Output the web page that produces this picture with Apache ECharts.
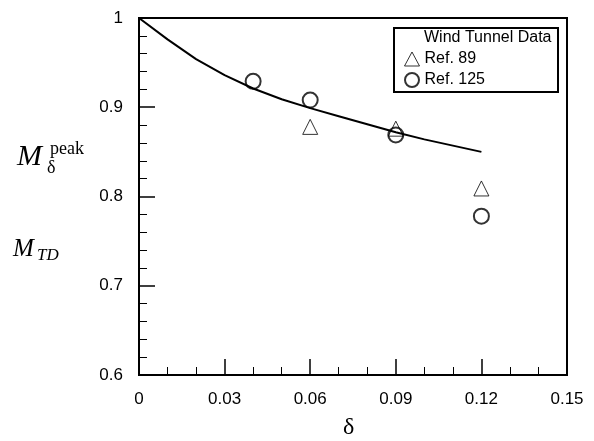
<!DOCTYPE html>
<html>
<head>
<meta charset="utf-8">
<script src="https://cdn.jsdelivr.net/npm/echarts@6/dist/echarts.min.js"></script>
<style>html,body{margin:0;padding:0;background:#fff;}#c{width:594px;height:441px;}</style>
</head>
<body>
<div id="c"></div>
<script>
// Theory curve
var curveX = [0, 0.01, 0.02, 0.03, 0.04, 0.05, 0.06, 0.07, 0.08, 0.09, 0.10, 0.11, 0.12];
var curveY = [1.0, 0.976, 0.954, 0.936, 0.921, 0.909, 0.899, 0.890, 0.881, 0.872, 0.864, 0.857, 0.850];
// Wind tunnel data
var ref89X = [0.06, 0.09, 0.12];
var ref89Y = [0.878, 0.876, 0.809];
var ref125X = [0.04, 0.06, 0.09, 0.12];
var ref125Y = [0.929, 0.908, 0.869, 0.778];
var seriesNames = ['Ref. 89', 'Ref. 125'];
var legendTitle = 'Wind Tunnel Data';
var xTicks = {min: 0, max: 0.15, interval: 0.03};
var yTicks = {min: 0.6, max: 1.0, interval: 0.1};

function zip(a, b) { return a.map(function (v, i) { return [v, b[i]]; }); }

var chart = echarts.init(document.getElementById('c'), null, {renderer: 'canvas'});
var font = 'Arial, "Liberation Sans", Helvetica, sans-serif';
var serif = '"Liberation Serif", "DejaVu Serif", "Times New Roman", serif';

chart.setOption({
  animation: false,
  backgroundColor: '#fff',
  grid: {left: 139, right: 27, top: 18, bottom: 66, show: true, borderColor: '#000', borderWidth: 2, backgroundColor: 'transparent'},
  xAxis: {
    type: 'value', min: xTicks.min, max: xTicks.max, interval: xTicks.interval,
    axisLine: {show: true, lineStyle: {color: '#000', width: 2}},
    axisTick: {show: true, inside: true, length: 16, lineStyle: {color: '#000', width: 1.5}},
    minorTick: {show: true, splitNumber: 3, length: 8, lineStyle: {color: '#000', width: 1}},
    splitLine: {show: false},
    axisLabel: {color: '#000', fontFamily: font, fontSize: 17, margin: 16,
      formatter: function (v) { return String(+v.toFixed(2)); }}
  },
  yAxis: {
    type: 'value', min: yTicks.min, max: yTicks.max, interval: yTicks.interval,
    axisLine: {show: true, lineStyle: {color: '#000', width: 2}},
    axisTick: {show: true, inside: true, length: 16, lineStyle: {color: '#000', width: 1.5}},
    minorTick: {show: true, splitNumber: 5, length: 8, lineStyle: {color: '#000', width: 1}},
    splitLine: {show: false},
    axisLabel: {color: '#000', fontFamily: font, fontSize: 17, margin: 16,
      formatter: function (v) { return String(+v.toFixed(1)); }}
  },
  legend: {
    orient: 'vertical', left: 399, top: 46, itemWidth: 15, itemHeight: 14, itemGap: 5,
    textStyle: {color: '#000', fontFamily: font, fontSize: 16},
    data: [
      {name: seriesNames[0], icon: 'triangle', itemStyle: {color: 'transparent', borderColor: '#000', borderWidth: 1}},
      {name: seriesNames[1], icon: 'circle', itemStyle: {color: 'transparent', borderColor: '#000', borderWidth: 2}}
    ]
  },
  graphic: [
    {type: 'rect', left: 393, top: 27, shape: {width: 164, height: 64}, style: {fill: 'transparent', stroke: '#000', lineWidth: 2}, z: 10},
    {type: 'text', left: 424, top: 30, style: {text: legendTitle, font: '16px ' + font, fill: '#000'}, z: 10},
    {type: 'text', left: 17, top: 142, style: {text: 'M', font: 'italic 30px ' + serif, fill: '#000'}},
    {type: 'text', left: 47, top: 159, style: {text: 'δ', font: '18px ' + serif, fill: '#000'}},
    {type: 'text', left: 50, top: 140, style: {text: 'peak', font: '18px ' + serif, fill: '#000'}},
    {type: 'text', left: 13, top: 237, style: {text: 'M', font: 'italic 25px ' + serif, fill: '#000'}},
    {type: 'text', left: 37, top: 247, style: {text: 'TD', font: 'italic 17px ' + serif, fill: '#000'}},
    {type: 'text', left: 343, top: 416, style: {text: 'δ', font: '24px ' + serif, fill: '#000'}}
  ],
  series: [
    {type: 'line', name: 'theory', data: zip(curveX, curveY), smooth: false, showSymbol: false, symbol: 'none',
      lineStyle: {color: '#000', width: 2, join: 'round'}, z: 2},
    {type: 'scatter', name: seriesNames[0], data: zip(ref89X, ref89Y), symbol: 'triangle', symbolSize: 15,
      itemStyle: {color: 'transparent', borderColor: '#000', borderWidth: 1}, z: 3},
    {type: 'scatter', name: seriesNames[1], data: zip(ref125X, ref125Y), symbol: 'circle', symbolSize: 15,
      itemStyle: {color: 'transparent', borderColor: '#000', borderWidth: 2}, z: 4}
  ]
});
</script>
</body>
</html>
